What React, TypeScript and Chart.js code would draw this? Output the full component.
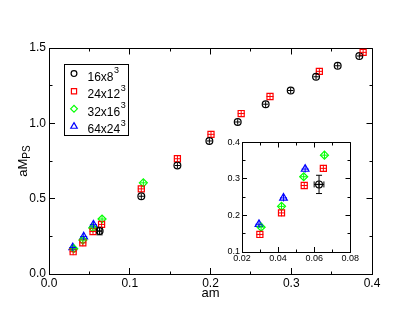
import React, { useEffect, useRef } from "react";
import { Chart, registerables } from "chart.js";
import { drawPoint } from "chart.js/helpers";

Chart.register(...registerables);

// ---------------- data ----------------
const seriesNames = ["16x8", "24x12", "32x16", "64x24"];
const seriesExponent = "3";

// 16x8^3
const am16 = [0.0627, 0.1143, 0.159, 0.1986, 0.2337, 0.2683, 0.2993, 0.3307, 0.3575, 0.3843];
const mps16 = [0.285, 0.516, 0.72, 0.883, 1.009, 1.127, 1.218, 1.309, 1.382, 1.447];
const amErr16 = [0.0027, 0, 0, 0, 0, 0, 0, 0, 0, 0];
const mpsErr16 = [0.025, 0, 0, 0, 0, 0, 0, 0, 0, 0];

// 24x12^3
const am24 = [0.0299, 0.0419, 0.0545, 0.0651, 0.1143, 0.159, 0.2006, 0.238, 0.2737, 0.3348, 0.389];
const mps24 = [0.148, 0.207, 0.282, 0.329, 0.565, 0.765, 0.927, 1.065, 1.178, 1.345, 1.471];

// 32x16^3
const am32 = [0.0306, 0.0419, 0.0542, 0.0657, 0.1168];
const mps32 = [0.168, 0.225, 0.306, 0.365, 0.605];

// 64x24^3
const am64 = [0.0294, 0.043, 0.055];
const mps64 = [0.176, 0.248, 0.327];

const mainXTicks = [0, 0.1, 0.2, 0.3, 0.4];
const mainYTicks = [0, 0.5, 1.0, 1.5];
const insetXTicks = [0.02, 0.04, 0.06, 0.08];
const insetYTicks = [0.1, 0.2, 0.3, 0.4];

const xTitle = "am";
const yTitle = "aM";
const yTitleSub = "PS";

// ---------------- styles ----------------
const FONT = '"Liberation Sans", Arial, Helvetica, sans-serif';
const seriesColors = ["#000000", "#ff0000", "#00ff00", "#0000ff"];
const seriesStyles = ["circle", "rect", "rectRot", "triangle"];
const seriesRadius = [3.4, 4.3, 4, 4.4];

function pts(xs: number[], ys: number[]) {
  return xs.map((x, i) => ({ x, y: ys[i] }));
}

function makeDatasets() {
  const raw = [
    { d: pts(am16, mps16), xErr: amErr16, yErr: mpsErr16 },
    { d: pts(am24, mps24) },
    { d: pts(am32, mps32) },
    { d: pts(am64, mps64) },
  ];
  return raw.map((r: any, i) => ({
    label: seriesNames[i],
    exponent: seriesExponent,
    data: r.d,
    xErr: r.xErr,
    yErr: r.yErr,
    showLine: false,
    pointStyle: seriesStyles[i],
    pointRadius: seriesRadius[i],
    pointHoverRadius: seriesRadius[i],
    borderColor: seriesColors[i],
    backgroundColor: "rgba(0,0,0,0)",
    borderWidth: 1.2,
    pointBorderWidth: 1.2,
  }));
}

const al = (p: number) => Math.round(p - 0.5) + 0.5;

// frame: top/right border, mirrored major ticks, minor ticks
const framePlugin = {
  id: "frame",
  beforeDatasetsDraw(chart: any, _a: any, opts: any) {
    const { ctx, chartArea: a, scales } = chart;
    const xs = scales.x, ys = scales.y;
    const L = al(a.left), R = al(a.right), T = al(a.top), B = al(a.bottom);
    const xt = xs.ticks.map((t: any) => t.value);
    const yt = ys.ticks.map((t: any) => t.value);
    const mids = (v: number[]) => v.slice(1).map((x, i) => (x + v[i]) / 2);
    ctx.save();
    ctx.strokeStyle = "#000";
    ctx.lineWidth = 1;
    ctx.beginPath();
    ctx.moveTo(L, T);
    ctx.lineTo(R, T);
    ctx.lineTo(R, B);
    for (const v of xt) {
      const p = al(xs.getPixelForValue(v));
      ctx.moveTo(p, T);
      ctx.lineTo(p, T + opts.major);
    }
    for (const v of mids(xt)) {
      const p = al(xs.getPixelForValue(v));
      ctx.moveTo(p, B);
      ctx.lineTo(p, B - opts.minor);
      ctx.moveTo(p, T);
      ctx.lineTo(p, T + opts.minor);
    }
    for (const v of yt) {
      const p = al(ys.getPixelForValue(v));
      ctx.moveTo(R, p);
      ctx.lineTo(R - opts.major, p);
    }
    for (const v of mids(yt)) {
      const p = al(ys.getPixelForValue(v));
      ctx.moveTo(L, p);
      ctx.lineTo(L + opts.minor, p);
      ctx.moveTo(R, p);
      ctx.lineTo(R - opts.minor, p);
    }
    ctx.stroke();
    ctx.restore();
  },
};

// inner crosses and error bars
const marksPlugin = {
  id: "marks",
  afterDatasetsDraw(chart: any) {
    const { ctx, chartArea: a } = chart;
    const xs = chart.scales.x, ys = chart.scales.y;
    ctx.save();
    ctx.beginPath();
    ctx.rect(a.left - 8, a.top - 8, a.right - a.left + 16, a.bottom - a.top + 16);
    ctx.clip();
    chart.data.datasets.forEach((ds: any, i: number) => {
      const meta = chart.getDatasetMeta(i);
      ctx.strokeStyle = ds.borderColor;
      ctx.lineWidth = 1;
      meta.data.forEach((el: any, j: number) => {
        const x = el.x, y = el.y;
        const r = ds.pointRadius * 0.8;
        ctx.beginPath();
        ctx.moveTo(x - r, y);
        ctx.lineTo(x + r, y);
        ctx.moveTo(x, y - r);
        ctx.lineTo(x, y + r);
        const v = ds.data[j];
        const ye = ds.yErr ? ds.yErr[j] : 0;
        const xe = ds.xErr ? ds.xErr[j] : 0;
        const cap = 3;
        if (ye > 0) {
          const y1 = ys.getPixelForValue(v.y + ye);
          const y2 = ys.getPixelForValue(v.y - ye);
          ctx.moveTo(x, y1);
          ctx.lineTo(x, y2);
          ctx.moveTo(x - cap, y1);
          ctx.lineTo(x + cap, y1);
          ctx.moveTo(x - cap, y2);
          ctx.lineTo(x + cap, y2);
        }
        if (xe > 0) {
          const x1 = xs.getPixelForValue(v.x - xe);
          const x2 = xs.getPixelForValue(v.x + xe);
          ctx.moveTo(x1, y);
          ctx.lineTo(x2, y);
          ctx.moveTo(x1, y - cap);
          ctx.lineTo(x1, y + cap);
          ctx.moveTo(x2, y - cap);
          ctx.lineTo(x2, y + cap);
        }
        ctx.stroke();
      });
    });
    ctx.restore();
  },
};

const legendPlugin = {
  id: "boxLegend",
  afterDraw(chart: any, _a: any, o: any) {
    const { ctx, chartArea: a } = chart;
    const left = Math.round(a.left + o.dx);
    const top = Math.round(a.top + o.dy);
    ctx.save();
    ctx.fillStyle = "#fff";
    ctx.fillRect(left, top, o.w, o.h);
    ctx.strokeStyle = "#000";
    ctx.lineWidth = 1;
    ctx.strokeRect(left + 0.5, top + 0.5, o.w, o.h);
    chart.data.datasets.forEach((ds: any, i: number) => {
      const cy = top + o.first + i * o.row;
      const sx = left + o.symX;
      ctx.strokeStyle = ds.borderColor;
      ctx.fillStyle = "rgba(0,0,0,0)";
      ctx.lineWidth = ds.borderWidth;
      drawPoint(ctx, { pointStyle: ds.pointStyle, radius: ds.pointRadius * 0.85, rotation: 0, borderWidth: ds.borderWidth } as any, sx, cy);
      ctx.fillStyle = "#000";
      ctx.textAlign = "left";
      ctx.textBaseline = "alphabetic";
      ctx.font = `12px ${FONT}`;
      const tx = left + o.textX;
      ctx.fillText(ds.label, tx, cy + 7);
      const w = ctx.measureText(ds.label).width;
      ctx.font = `9px ${FONT}`;
      ctx.fillText(ds.exponent, tx + w + 0.5, cy - 0.5);
    });
    ctx.restore();
  },
};

const titlesPlugin = {
  id: "titles",
  afterDraw(chart: any, _a: any, o: any) {
    const { ctx, chartArea: a } = chart;
    ctx.save();
    ctx.fillStyle = "#000";
    ctx.font = `13px ${FONT}`;
    ctx.textAlign = "center";
    ctx.textBaseline = "alphabetic";
    ctx.fillText(o.xTitle, (a.left + a.right) / 2, a.bottom + 23);
    ctx.translate(a.left - 22, (a.top + a.bottom) / 2);
    ctx.rotate(-Math.PI / 2);
    ctx.font = `13px ${FONT}`;
    const w1 = ctx.measureText(o.yTitle).width;
    ctx.font = `10px ${FONT}`;
    const w2 = ctx.measureText(o.ySub).width;
    const start = -(w1 + w2) / 2;
    ctx.textAlign = "left";
    ctx.font = `13px ${FONT}`;
    ctx.fillText(o.yTitle, start, 0);
    ctx.font = `10px ${FONT}`;
    ctx.fillText(o.ySub, start + w1, 3);
    ctx.restore();
  },
};

function axis(ticks: number[], digits: number, fontSize: number, padding: number, tickLen: number, fitSize: number, horizontal: boolean) {
  return {
    type: "linear" as const,
    min: ticks[0],
    max: ticks[ticks.length - 1],
    afterBuildTicks: (s: any) => {
      s.ticks = ticks.map((v) => ({ value: v }));
    },
    afterFit: (s: any) => {
      if (horizontal) s.height = fitSize;
      else s.width = fitSize;
    },
    ticks: {
      autoSkip: false,
      maxRotation: 0,
      padding,
      color: "#000",
      font: { size: fontSize, family: FONT },
      callback: (v: any) => Number(v).toFixed(digits),
    },
    grid: {
      drawOnChartArea: false,
      drawTicks: true,
      tickLength: tickLen,
      tickColor: "#000",
      tickWidth: 1,
    },
    border: { display: true, color: "#000", width: 1 },
    title: { display: false },
  };
}

export default function App() {
  const mainRef = useRef<HTMLCanvasElement>(null);
  const insetRef = useRef<HTMLCanvasElement>(null);

  useEffect(() => {
    Chart.defaults.font.family = FONT;
    const main = new Chart(mainRef.current!, {
      type: "scatter",
      data: { datasets: makeDatasets() as any },
      options: {
        animation: false,
        responsive: false,
        devicePixelRatio: 1,
        events: [],
        layout: { padding: { left: 0, top: 48, right: 46, bottom: 0 } },
        scales: {
          x: axis(mainXTicks, 1, 12, 8, -6, 49, true) as any,
          y: axis(mainYTicks, 1, 12, 9, -6, 49, false) as any,
        },
        plugins: {
          legend: { display: false },
          tooltip: { enabled: false },
          frame: { major: 6, minor: 3 },
          boxLegend: { dx: 15, dy: 16, w: 64, h: 71, first: 9.6, row: 17.6, symX: 10, textX: 23.5 },
          titles: { xTitle, yTitle, ySub: yTitleSub },
        } as any,
      },
      plugins: [framePlugin, marksPlugin, legendPlugin, titlesPlugin],
    });

    const inset = new Chart(insetRef.current!, {
      type: "scatter",
      data: { datasets: makeDatasets().map((d) => ({ ...d, clip: 6 })) as any },
      options: {
        animation: false,
        responsive: false,
        devicePixelRatio: 1,
        events: [],
        layout: { padding: { left: 0, top: 9, right: 10, bottom: 0 } },
        scales: {
          x: axis(insetXTicks, 2, 9, 6, -5, 18, true) as any,
          y: axis(insetYTicks, 1, 9, 7, -5, 27, false) as any,
        },
        plugins: {
          legend: { display: false },
          tooltip: { enabled: false },
          frame: { major: 5, minor: 3 },
        } as any,
      },
      plugins: [framePlugin, marksPlugin],
    });

    return () => {
      main.destroy();
      inset.destroy();
    };
  }, []);

  return (
    <div style={{ position: "fixed", left: 0, top: 0, width: 418, height: 323, background: "#fff" }}>
      <canvas ref={mainRef} width={418} height={323} style={{ position: "absolute", left: 0, top: 0, width: 418, height: 323 }} />
      <canvas ref={insetRef} width={150} height={140} style={{ position: "absolute", left: 215, top: 130, width: 150, height: 140 }} />
    </div>
  );
}
